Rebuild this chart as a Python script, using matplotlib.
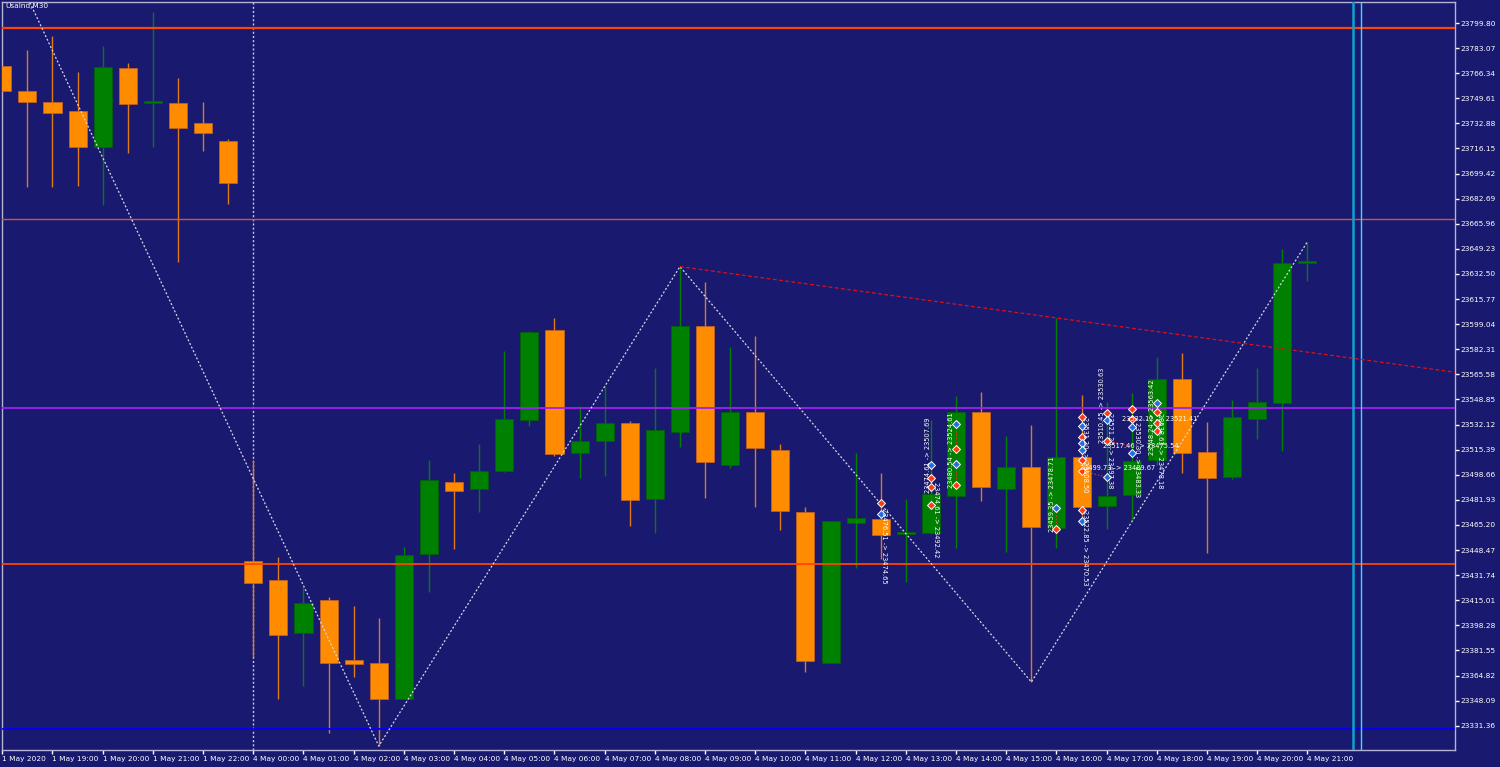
import numpy as np
import matplotlib.pyplot as plt

plt.rcParams['font.family'] = ['DejaVu Sans']

symbol = 'UsaInd,M30'

# M30 candles, 1 May 18:00 .. 4 May 21:00
opens  = [23771.2, 23754.3, 23747.2, 23741.0, 23717.4, 23769.6, 23746.7, 23746.3, 23733.2, 23721.2,
          23441.4, 23428.3, 23393.0, 23415.2, 23375.2, 23373.0, 23349.4, 23445.8, 23494.0, 23489.2,
          23501.4, 23535.2, 23595.2, 23513.4, 23521.0, 23533.4, 23482.3, 23527.4, 23597.6, 23505.4,
          23540.7, 23515.2, 23473.8, 23373.4, 23466.7, 23469.2, 23459.2, 23459.6, 23484.5, 23540.7,
          23489.4, 23504.0, 23463.0, 23510.7, 23478.0, 23485.2, 23508.5, 23562.5, 23514.0, 23497.4,
          23536.0, 23546.7, 23640.0]
highs  = [23771.5, 23781.8, 23791.2, 23767.2, 23784.7, 23773.0, 23807.2, 23763.2, 23747.2, 23722.3,
          23508.5, 23443.6, 23424.0, 23417.4, 23411.2, 23403.2, 23450.3, 23508.5, 23499.6, 23519.2,
          23581.2, 23594.5, 23603.4, 23544.5, 23557.8, 23534.5, 23570.0, 23637.4, 23627.4, 23583.6,
          23591.2, 23519.0, 23477.4, 23468.0, 23513.0, 23499.6, 23482.5, 23535.2, 23551.2, 23553.8,
          23524.5, 23531.8, 23603.2, 23551.8, 23547.4, 23553.0, 23577.4, 23579.6, 23533.6, 23548.5,
          23570.0, 23649.0, 23654.0]
lows   = [23754.5, 23690.3, 23690.7, 23691.4, 23678.5, 23713.4, 23717.4, 23640.5, 23714.5, 23679.2,
          23377.0, 23349.0, 23357.8, 23326.7, 23363.6, 23317.8, 23349.0, 23420.7, 23449.0, 23474.0,
          23500.8, 23531.4, 23511.4, 23496.7, 23497.8, 23464.5, 23460.0, 23517.4, 23483.4, 23503.4,
          23477.0, 23461.8, 23367.4, 23373.0, 23436.3, 23442.3, 23427.4, 23459.0, 23449.6, 23481.4,
          23447.4, 23360.5, 23449.6, 23465.2, 23462.5, 23468.5, 23505.2, 23500.0, 23446.3, 23496.0,
          23522.5, 23514.7, 23628.0]
closes = [23754.7, 23747.4, 23739.6, 23717.4, 23770.3, 23745.8, 23746.9, 23729.6, 23726.5, 23693.4,
          23426.7, 23392.0, 23413.2, 23373.4, 23372.5, 23349.0, 23445.0, 23495.2, 23488.0, 23501.4,
          23535.6, 23594.0, 23512.7, 23521.2, 23533.4, 23481.8, 23528.5, 23597.6, 23507.4, 23540.5,
          23516.3, 23474.5, 23374.7, 23468.0, 23469.6, 23458.3, 23459.5, 23485.8, 23540.7, 23490.7,
          23503.6, 23463.6, 23510.7, 23477.4, 23484.7, 23507.8, 23562.5, 23513.0, 23496.3, 23537.0,
          23547.4, 23640.0, 23640.3]

xlabels = ['1 May 2020', '1 May 19:00', '1 May 20:00', '1 May 21:00', '1 May 22:00',
           '4 May 00:00', '4 May 01:00', '4 May 02:00', '4 May 03:00', '4 May 04:00',
           '4 May 05:00', '4 May 06:00', '4 May 07:00', '4 May 08:00', '4 May 09:00',
           '4 May 10:00', '4 May 11:00', '4 May 12:00', '4 May 13:00', '4 May 14:00',
           '4 May 15:00', '4 May 16:00', '4 May 17:00', '4 May 18:00', '4 May 19:00',
           '4 May 20:00', '4 May 21:00']
price_ticks = [23331.36, 23348.09, 23364.82, 23381.55, 23398.28, 23415.01, 23431.74, 23448.47,
               23465.20, 23481.93, 23498.66, 23515.39, 23532.12, 23548.85, 23565.58, 23582.31,
               23599.04, 23615.77, 23632.50, 23649.23, 23665.96, 23682.69, 23699.42, 23716.15,
               23732.88, 23749.61, 23766.34, 23783.07, 23799.80]

levels = [23796.3, 23668.96, 23542.96, 23438.96, 23329.2]
level_colors = ['#ff4500', '#e0502a', '#a020f0', '#ff4500', '#0000ff']
level_widths = [1.6, 1.0, 1.3, 1.3, 1.3]

# zigzag pivots (candle index, price)
zz_idx = [0, 15, 27, 41, 52]
zz_px = [23852.7, 23317.8, 23637.4, 23360.5, 23654.0]

# trendline through two highs
tl_idx = [27, 42]
tl_px = [23637.4, 23603.2]

session_idx = 10
now_lines = [53.80, 54.14]

# trade markers: (candle, price, side)
marks = [(35, 23479.6, 's'), (35, 23472.3, 'b'),
         (37, 23504.9, 'b'), (37, 23496.3, 's'), (37, 23490.3, 's'), (37, 23478.5, 's'),
         (38, 23532.5, 'b'), (38, 23516.0, 's'), (38, 23505.8, 'b'), (38, 23491.6, 's'),
         (42, 23476.3, 'b'), (42, 23462.3, 's'),
         (43, 23537.4, 's'), (43, 23531.2, 'b'), (43, 23523.6, 's'), (43, 23519.6, 'b'),
         (43, 23515.2, 'b'), (43, 23508.5, 's'), (43, 23501.4, 's'), (43, 23475.2, 's'),
         (43, 23467.8, 'b'),
         (44, 23540.0, 's'), (44, 23535.2, 'b'), (44, 23521.2, 's'), (44, 23497.0, 'b'),
         (45, 23542.3, 's'), (45, 23535.6, 's'), (45, 23530.3, 'b'), (45, 23513.0, 'b'),
         (46, 23546.7, 'b'), (46, 23540.3, 's'), (46, 23533.4, 's'), (46, 23528.0, 's')]
links = [(35, 23479.6, 35, 23472.3), (37, 23504.9, 37, 23478.5), (38, 23532.5, 38, 23516.0),
         (38, 23505.8, 38, 23491.6), (42, 23476.3, 42, 23462.3), (43, 23501.4, 44, 23497.0),
         (44, 23521.2, 45, 23517.8), (45, 23535.6, 46, 23535.6), (43, 23475.2, 43, 23467.8)]
# trade labels: (x, price, text, rotation)
notes = [(35.13, 23476.5, '23476.51 -> 23474.65', -90),
         (36.88, 23486.5, '23474.61 -> 23507.69', 90),
         (37.20, 23493.8, '23474.61 -> 23492.42', -90),
         (37.78, 23489.8, '23480.54 -> 23524.61', 90),
         (41.84, 23460.5, '23459.35 -> 23478.71', 90),
         (43.13, 23537.0, '23531.20 -> 23508.50', -90),
         (43.13, 23475.0, '23522.85 -> 23470.53', -90),
         (43.83, 23519.8, '23510.45 -> 23530.63', 90),
         (44.15, 23539.6, '23521.20 -> 23497.38', -90),
         (45.20, 23534.0, '23530.30 -> 23483.33', -90),
         (45.80, 23511.9, '23548.24 -> 23563.42', 90),
         (46.12, 23539.6, '23538.63 -> 23478.18', -90),
         (42.94, 23503.2, '23499.73 -> 23489.67', 0),
         (43.85, 23517.8, '23517.46 -> 23475.54', 0),
         (44.60, 23535.8, '23532.12 -> 23521.41', 0)]

bg = '#191970'
up_col, dn_col = '#008000', '#ff8c00'
fs = 5.3
fs_note = 4.8

fig = plt.figure(figsize=(15, 7.67), dpi=100, facecolor=bg)
ax = fig.add_axes([2 / 1500, 17 / 767, 1452.5 / 1500, 748 / 767], facecolor=bg)

o = np.array(opens); h = np.array(highs); l = np.array(lows); c = np.array(closes)
x = np.arange(len(o))
bull = c >= o
ax.vlines(x, l, h, colors=np.where(bull, up_col, '#e07b1c'), linewidth=1, zorder=2)
ax.bar(x, np.maximum(np.abs(c - o), 1.0), bottom=np.minimum(o, c), width=0.72,
       color=np.where(bull, up_col, dn_col), edgecolor=np.where(bull, '#006400', '#c8641e'),
       linewidth=0.5, zorder=3)

ax.axvline(session_idx, color='#c8c8e0', lw=1, ls=(0, (1.5, 1.5)), zorder=1)
for lv, col, lw in zip(levels, level_colors, level_widths):
    ax.axhline(lv, color=col, lw=lw, zorder=4)
ax.axvline(now_lines[0], color='#12a0cc', lw=1.8, zorder=4)
ax.axvline(now_lines[1], color='#40d8ff', lw=1.0, zorder=4)

ax.plot(zz_idx, zz_px, color='#d8d8e8', lw=0.9, ls=(0, (1.6, 1.6)), zorder=5)
slope = (tl_px[1] - tl_px[0]) / (tl_idx[1] - tl_idx[0])
tx = np.array([tl_idx[0], 58])
ax.plot(tx, tl_px[0] + slope * (tx - tl_idx[0]), color='#e01010', lw=0.9,
        ls=(0, (3, 2)), zorder=5)

for x0, p0, x1, p1 in links:
    ax.plot([x0, x1], [p0, p1], color='#e03020', lw=0.8, ls=(0, (1.5, 1.5)), zorder=6)
for xi, p, side in marks:
    ax.plot(xi, p, marker='D', ms=3.6, mfc='#ff3a10' if side == 's' else '#2070e0',
            mec='white', mew=0.7, zorder=7)
for xi, p, txt, rot in notes:
    if rot == -90:
        ax.text(xi, p, txt, rotation=-90, ha='center', va='top', color='white',
                fontsize=fs_note, zorder=8)
    elif rot == 90:
        ax.text(xi, p, txt, rotation=90, ha='center', va='bottom', color='white',
                fontsize=fs_note, zorder=8)
    else:
        ax.text(xi, p, txt, ha='left', va='center', color='white', fontsize=fs_note, zorder=8)

ax.set_xlim(-0.012, 57.86)
ax.set_ylim(23315.16, 23813.8)

ax.set_xticks(np.arange(0, len(o), 2))
ax.set_xticklabels(xlabels)
ax.set_yticks(price_ticks)
ax.set_yticklabels(['%.2f' % v for v in price_ticks])
ax.yaxis.tick_right()
ax.tick_params(axis='both', colors='white', labelcolor='white', labelsize=fs,
               length=3, width=1, direction='out', pad=1.5)
for lab in ax.get_xticklabels():
    lab.set_horizontalalignment('left')
for s in ax.spines.values():
    s.set_color('#b4b4d2')
    s.set_linewidth(1)

fig.text(5 / 1500, 1 - 3 / 767, symbol, color='white', fontsize=fs, ha='left', va='top')

fig.savefig('out.png', dpi=100, facecolor=bg)
